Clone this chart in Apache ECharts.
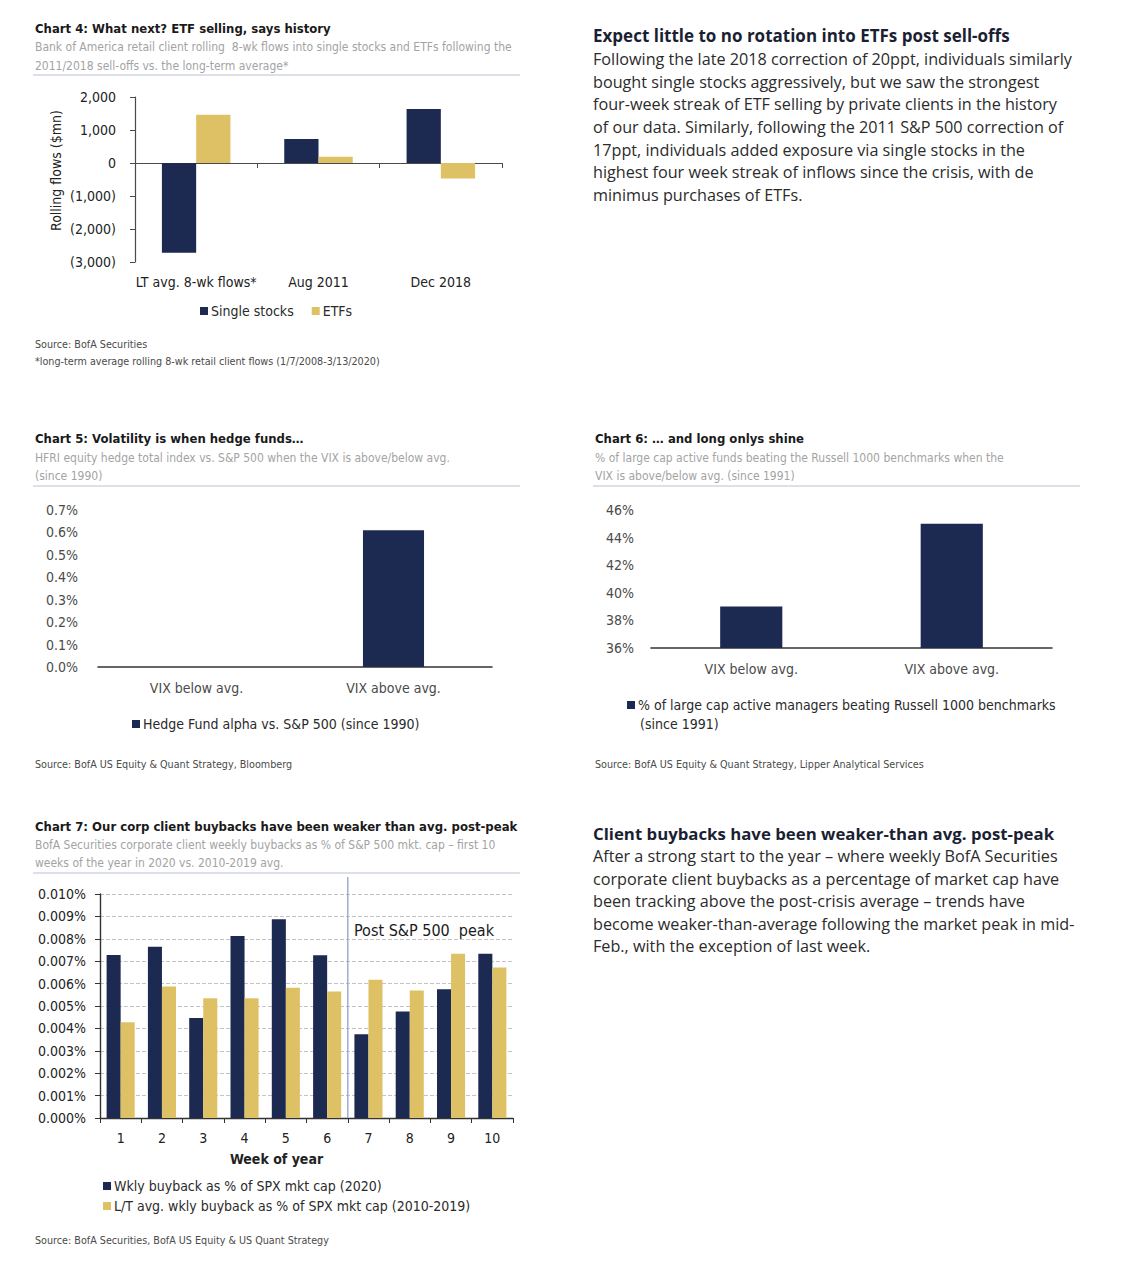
<!DOCTYPE html>
<html>
<head>
<meta charset="utf-8">
<style>
html,body{margin:0;padding:0;background:#fff;}
#main{width:1127px;height:1280px;}
</style>
<script src="https://cdn.jsdelivr.net/npm/echarts@6/dist/echarts.min.js"></script>
</head>
<body>
<div id="main"></div>
<script>
// ---------- DATA ----------
const c4Categories = ['LT avg. 8-wk flows*', 'Aug 2011', 'Dec 2018'];
const c4Single = [-2720, 730, 1640];
const c4Etf = [1460, 190, -470];
const c4Y = {min: -3000, max: 2000, interval: 1000};

const c5Categories = ['VIX below avg.', 'VIX above avg.'];
const c5Alpha = [0, 0.61];
const c5Y = {min: 0, max: 0.7, interval: 0.1};

const c6Categories = ['VIX below avg.', 'VIX above avg.'];
const c6Beating = [39.0, 45.0];
const c6Y = {min: 36, max: 46, interval: 2};

const c7Weeks = ['1', '2', '3', '4', '5', '6', '7', '8', '9', '10'];
const c7Buyback2020 = [0.00728, 0.00765, 0.00446, 0.00813, 0.00887, 0.00727, 0.00374, 0.00475, 0.00575, 0.00733];
const c7BuybackAvg = [0.00428, 0.00587, 0.00535, 0.00535, 0.00582, 0.00565, 0.00617, 0.00569, 0.00733, 0.00672];
const c7Y = {min: 0, max: 0.010, interval: 0.001};

// ---------- STYLE ----------
const NAVY = '#1c2a52';
const GOLD = '#dfc165';
const NARROW = "'Liberation Sans Narrow','Arial Narrow','DejaVu Sans Condensed',sans-serif";
const BODY = "'Open Sans','Noto Sans',sans-serif";

const chart = echarts.init(document.getElementById('main'), null, {renderer: 'svg'});

function paren(v) {
  const s = Math.abs(v).toLocaleString('en-US');
  return v < 0 ? '(' + s + ')' : s;
}

const axisTxt = (color, size) => ({color: color, fontSize: size || 14, fontFamily: NARROW});

// y = vertical centre of the first line
function txt(id, x, y, text, font, fill, lh) {
  lh = lh || 16;
  return {id: id, type: 'text', x: x, y: y - lh / 2, silent: true,
    style: {text: text, font: font, fill: fill, verticalAlign: 'top', lineHeight: lh}};
}
function hline(id, x1, x2, y, color) {
  return {id: id, type: 'line', silent: true, shape: {x1: x1, y1: y, x2: x2, y2: y},
    style: {stroke: color || '#b9c1d3', lineWidth: 1.2}};
}

const TITLE = 'bold 13px ' + NARROW;
const SUB = '12px ' + NARROW;
const SRC = '10.7px ' + NARROW;
const SUBC = '#a3a3a3';
const SRCC = '#4a4a4a';
const PBODY = '16.2px ' + BODY;

const graphics = [
  // Chart 4
  txt('t4', 35, 28, 'Chart 4: What next? ETF selling, says history', TITLE, '#1a1a1a'),
  txt('s4', 35, 47, 'Bank of America retail client rolling  8-wk flows into single stocks and ETFs following the\n2011/2018 sell-offs vs. the long-term average*', SUB, SUBC, 19),
  hline('l4', 33, 520, 75),
  txt('src4', 35, 344, 'Source: BofA Securities\n*long-term average rolling 8-wk retail client flows (1/7/2008-3/13/2020)', SRC, SRCC, 17),
  // Paragraph 1
  txt('p1t', 593, 35, 'Expect little to no rotation into ETFs post sell-offs', 'bold 17px ' + BODY, '#1b1f33', 20),
  txt('p1', 593, 59, 'Following the late 2018 correction of 20ppt, individuals similarly\nbought single stocks aggressively, but we saw the strongest\nfour-week streak of ETF selling by private clients in the history\nof our data. Similarly, following the 2011 S&P 500 correction of\n17ppt, individuals added exposure via single stocks in the\nhighest four week streak of inflows since the crisis, with de\nminimus purchases of ETFs.', PBODY, '#2b2b2b', 22.7),
  // Chart 5
  txt('t5', 35, 438, 'Chart 5: Volatility is when hedge funds\u2026', TITLE, '#1a1a1a'),
  txt('s5', 35, 458, 'HFRI equity hedge total index vs. S&P 500 when the VIX is above/below avg.\n(since 1990)', SUB, SUBC, 18),
  hline('l5', 33, 520, 486),
  txt('src5', 35, 764, 'Source: BofA US Equity & Quant Strategy, Bloomberg', SRC, SRCC),
  // Chart 6
  txt('t6', 595, 438, 'Chart 6: \u2026 and long onlys shine', TITLE, '#1a1a1a'),
  txt('s6', 595, 458, '% of large cap active funds beating the Russell 1000 benchmarks when the\nVIX is above/below avg. (since 1991)', SUB, SUBC, 18),
  hline('l6', 593, 1080, 486),
  txt('leg6b', 640, 724, '(since 1991)', '14px ' + NARROW, '#2a2a2a'),
  txt('src6', 595, 764, 'Source: BofA US Equity & Quant Strategy, Lipper Analytical Services', SRC, SRCC),
  // Chart 7
  txt('t7', 35, 826, 'Chart 7: Our corp client buybacks have been weaker than avg. post-peak', TITLE, '#1a1a1a'),
  txt('s7', 35, 845, 'BofA Securities corporate client weekly buybacks as % of S&P 500 mkt. cap \u2013 first 10\nweeks of the year in 2020 vs. 2010-2019 avg.', SUB, SUBC, 18),
  hline('l7', 33, 520, 873),
  txt('post7', 354, 930, 'Post S&P 500  peak', '16px ' + NARROW, '#1a1a1a', 20),
  txt('src7', 35, 1240, 'Source: BofA Securities, BofA US Equity & US Quant Strategy', SRC, SRCC),
  // Paragraph 2
  txt('p2t', 593, 833, 'Client buybacks have been weaker-than avg. post-peak', 'bold 16.8px ' + BODY, '#1b1f33', 20),
  txt('p2', 593, 856, 'After a strong start to the year \u2013 where weekly BofA Securities\ncorporate client buybacks as a percentage of market cap have\nbeen tracking above the post-crisis average \u2013 trends have\nbecome weaker-than-average following the market peak in mid-\nFeb., with the exception of last week.', PBODY, '#2b2b2b', 22.6)
];

const legendBase = {
  padding: 0, icon: 'rect', itemWidth: 8, itemHeight: 8, itemGap: 18, selectedMode: false,
  textStyle: {fontFamily: NARROW, fontSize: 14, color: '#2a2a2a', padding: [0, 0, 0, -2]}
};

const option = {
  backgroundColor: '#fff',
  animation: false,
  graphic: {elements: graphics},
  grid: [
    {left: 135, top: 97, width: 367, height: 165},
    {left: 98, top: 510, width: 394, height: 157},
    {left: 651, top: 510, width: 401, height: 138},
    {left: 100, top: 894, width: 413, height: 224}
  ],
  legend: [
    Object.assign({}, legendBase, {left: 200, top: 304, data: ['Single stocks', 'ETFs']}),
    Object.assign({}, legendBase, {left: 132, top: 717, data: ['Hedge Fund alpha vs. S&P 500 (since 1990)']}),
    Object.assign({}, legendBase, {left: 627, top: 698, data: ['% of large cap active managers beating Russell 1000 benchmarks']}),
    Object.assign({}, legendBase, {left: 103, top: 1179, orient: 'vertical', itemGap: 6,
      data: ['Wkly buyback as % of SPX mkt cap (2020)', 'L/T avg. wkly buyback as % of SPX mkt cap (2010-2019)']})
  ],
  xAxis: [
    {gridIndex: 0, type: 'category', data: c4Categories,
      axisLine: {onZero: true, lineStyle: {color: '#4a4a4a', width: 1.2}},
      axisTick: {show: true, length: 5, lineStyle: {color: '#4a4a4a'}},
      axisLabel: Object.assign(axisTxt('#222', 14), {margin: 13, interval: 0})},
    {gridIndex: 1, type: 'category', data: c5Categories,
      axisLine: {lineStyle: {color: '#333', width: 1.6}}, axisTick: {show: false},
      axisLabel: Object.assign(axisTxt('#4a4a4a', 14), {margin: 14})},
    {gridIndex: 2, type: 'category', data: c6Categories,
      axisLine: {lineStyle: {color: '#333', width: 1.6}}, axisTick: {show: false},
      axisLabel: Object.assign(axisTxt('#4a4a4a', 14), {margin: 14})},
    {gridIndex: 3, type: 'category', data: c7Weeks,
      name: 'Week of year', nameLocation: 'middle', nameGap: 34,
      nameTextStyle: {fontFamily: NARROW, fontSize: 14, fontWeight: 'bold', color: '#222', padding: [0, 60, 0, 0]},
      axisLine: {lineStyle: {color: '#333', width: 1.4}},
      axisTick: {show: true, length: 5, lineStyle: {color: '#333'}},
      axisLabel: Object.assign(axisTxt('#222', 14), {margin: 13})}
  ],
  yAxis: [
    {gridIndex: 0, type: 'value', min: c4Y.min, max: c4Y.max, interval: c4Y.interval,
      name: 'Rolling flows ($mn)', nameLocation: 'middle', nameGap: 72, nameRotate: 90,
      nameTextStyle: {fontFamily: NARROW, fontSize: 14, color: '#222', padding: [0, 0, 0, 18]},
      axisLine: {show: true, lineStyle: {color: '#4a4a4a', width: 1.2}},
      axisTick: {show: true, length: 5, lineStyle: {color: '#4a4a4a'}},
      splitLine: {show: false},
      axisLabel: Object.assign(axisTxt('#222', 14), {margin: 19, formatter: paren})},
    {gridIndex: 1, type: 'value', min: c5Y.min, max: c5Y.max, interval: c5Y.interval,
      axisLine: {show: false}, axisTick: {show: false}, splitLine: {show: false},
      axisLabel: Object.assign(axisTxt('#4a4a4a', 14), {margin: 20, formatter: v => v.toFixed(1) + '%'})},
    {gridIndex: 2, type: 'value', min: c6Y.min, max: c6Y.max, interval: c6Y.interval,
      axisLine: {show: false}, axisTick: {show: false}, splitLine: {show: false},
      axisLabel: Object.assign(axisTxt('#4a4a4a', 14), {margin: 17, formatter: v => v + '%'})},
    {gridIndex: 3, type: 'value', min: c7Y.min, max: c7Y.max, interval: c7Y.interval,
      axisLine: {show: true, lineStyle: {color: '#333', width: 1.4}},
      axisTick: {show: true, length: 5, lineStyle: {color: '#333'}},
      splitLine: {show: true, lineStyle: {color: '#c4c4c4', type: 'dashed', width: 1}},
      axisLabel: Object.assign(axisTxt('#222', 14), {margin: 14, formatter: v => v.toFixed(3) + '%'})}
  ],
  series: [
    {name: 'Single stocks', type: 'bar', xAxisIndex: 0, yAxisIndex: 0, data: c4Single,
      itemStyle: {color: NAVY}, barGap: '0%', barCategoryGap: '44%'},
    {name: 'ETFs', type: 'bar', xAxisIndex: 0, yAxisIndex: 0, data: c4Etf,
      itemStyle: {color: GOLD}, barGap: '0%', barCategoryGap: '44%'},
    {name: 'Hedge Fund alpha vs. S&P 500 (since 1990)', type: 'bar', xAxisIndex: 1, yAxisIndex: 1,
      data: c5Alpha, itemStyle: {color: NAVY}, barWidth: '31%'},
    {name: '% of large cap active managers beating Russell 1000 benchmarks', type: 'bar', xAxisIndex: 2, yAxisIndex: 2,
      data: c6Beating, itemStyle: {color: NAVY}, barWidth: '31%'},
    {name: 'Wkly buyback as % of SPX mkt cap (2020)', type: 'bar', xAxisIndex: 3, yAxisIndex: 3,
      data: c7Buyback2020, itemStyle: {color: NAVY}, barGap: '0%', barCategoryGap: '32%'},
    {name: 'L/T avg. wkly buyback as % of SPX mkt cap (2010-2019)', type: 'bar', xAxisIndex: 3, yAxisIndex: 3,
      data: c7BuybackAvg, itemStyle: {color: GOLD}, barGap: '0%', barCategoryGap: '32%'}
  ]
};

chart.setOption(option);

// Post-peak divider between week 6 and week 7, positioned through the axis scale
const xa = chart.convertToPixel({xAxisIndex: 3}, c7Weeks[5]);
const xb = chart.convertToPixel({xAxisIndex: 3}, c7Weeks[6]);
const yBottom = chart.convertToPixel({yAxisIndex: 3}, c7Y.min);
const xMid = (xa + xb) / 2;
chart.setOption({graphic: {elements: [
  {id: 'peakLine', type: 'line', silent: true, z: 10,
    shape: {x1: xMid, y1: 877, x2: xMid, y2: yBottom},
    style: {stroke: '#8ea3c4', lineWidth: 1.3}}
]}});
</script>
</body>
</html>
